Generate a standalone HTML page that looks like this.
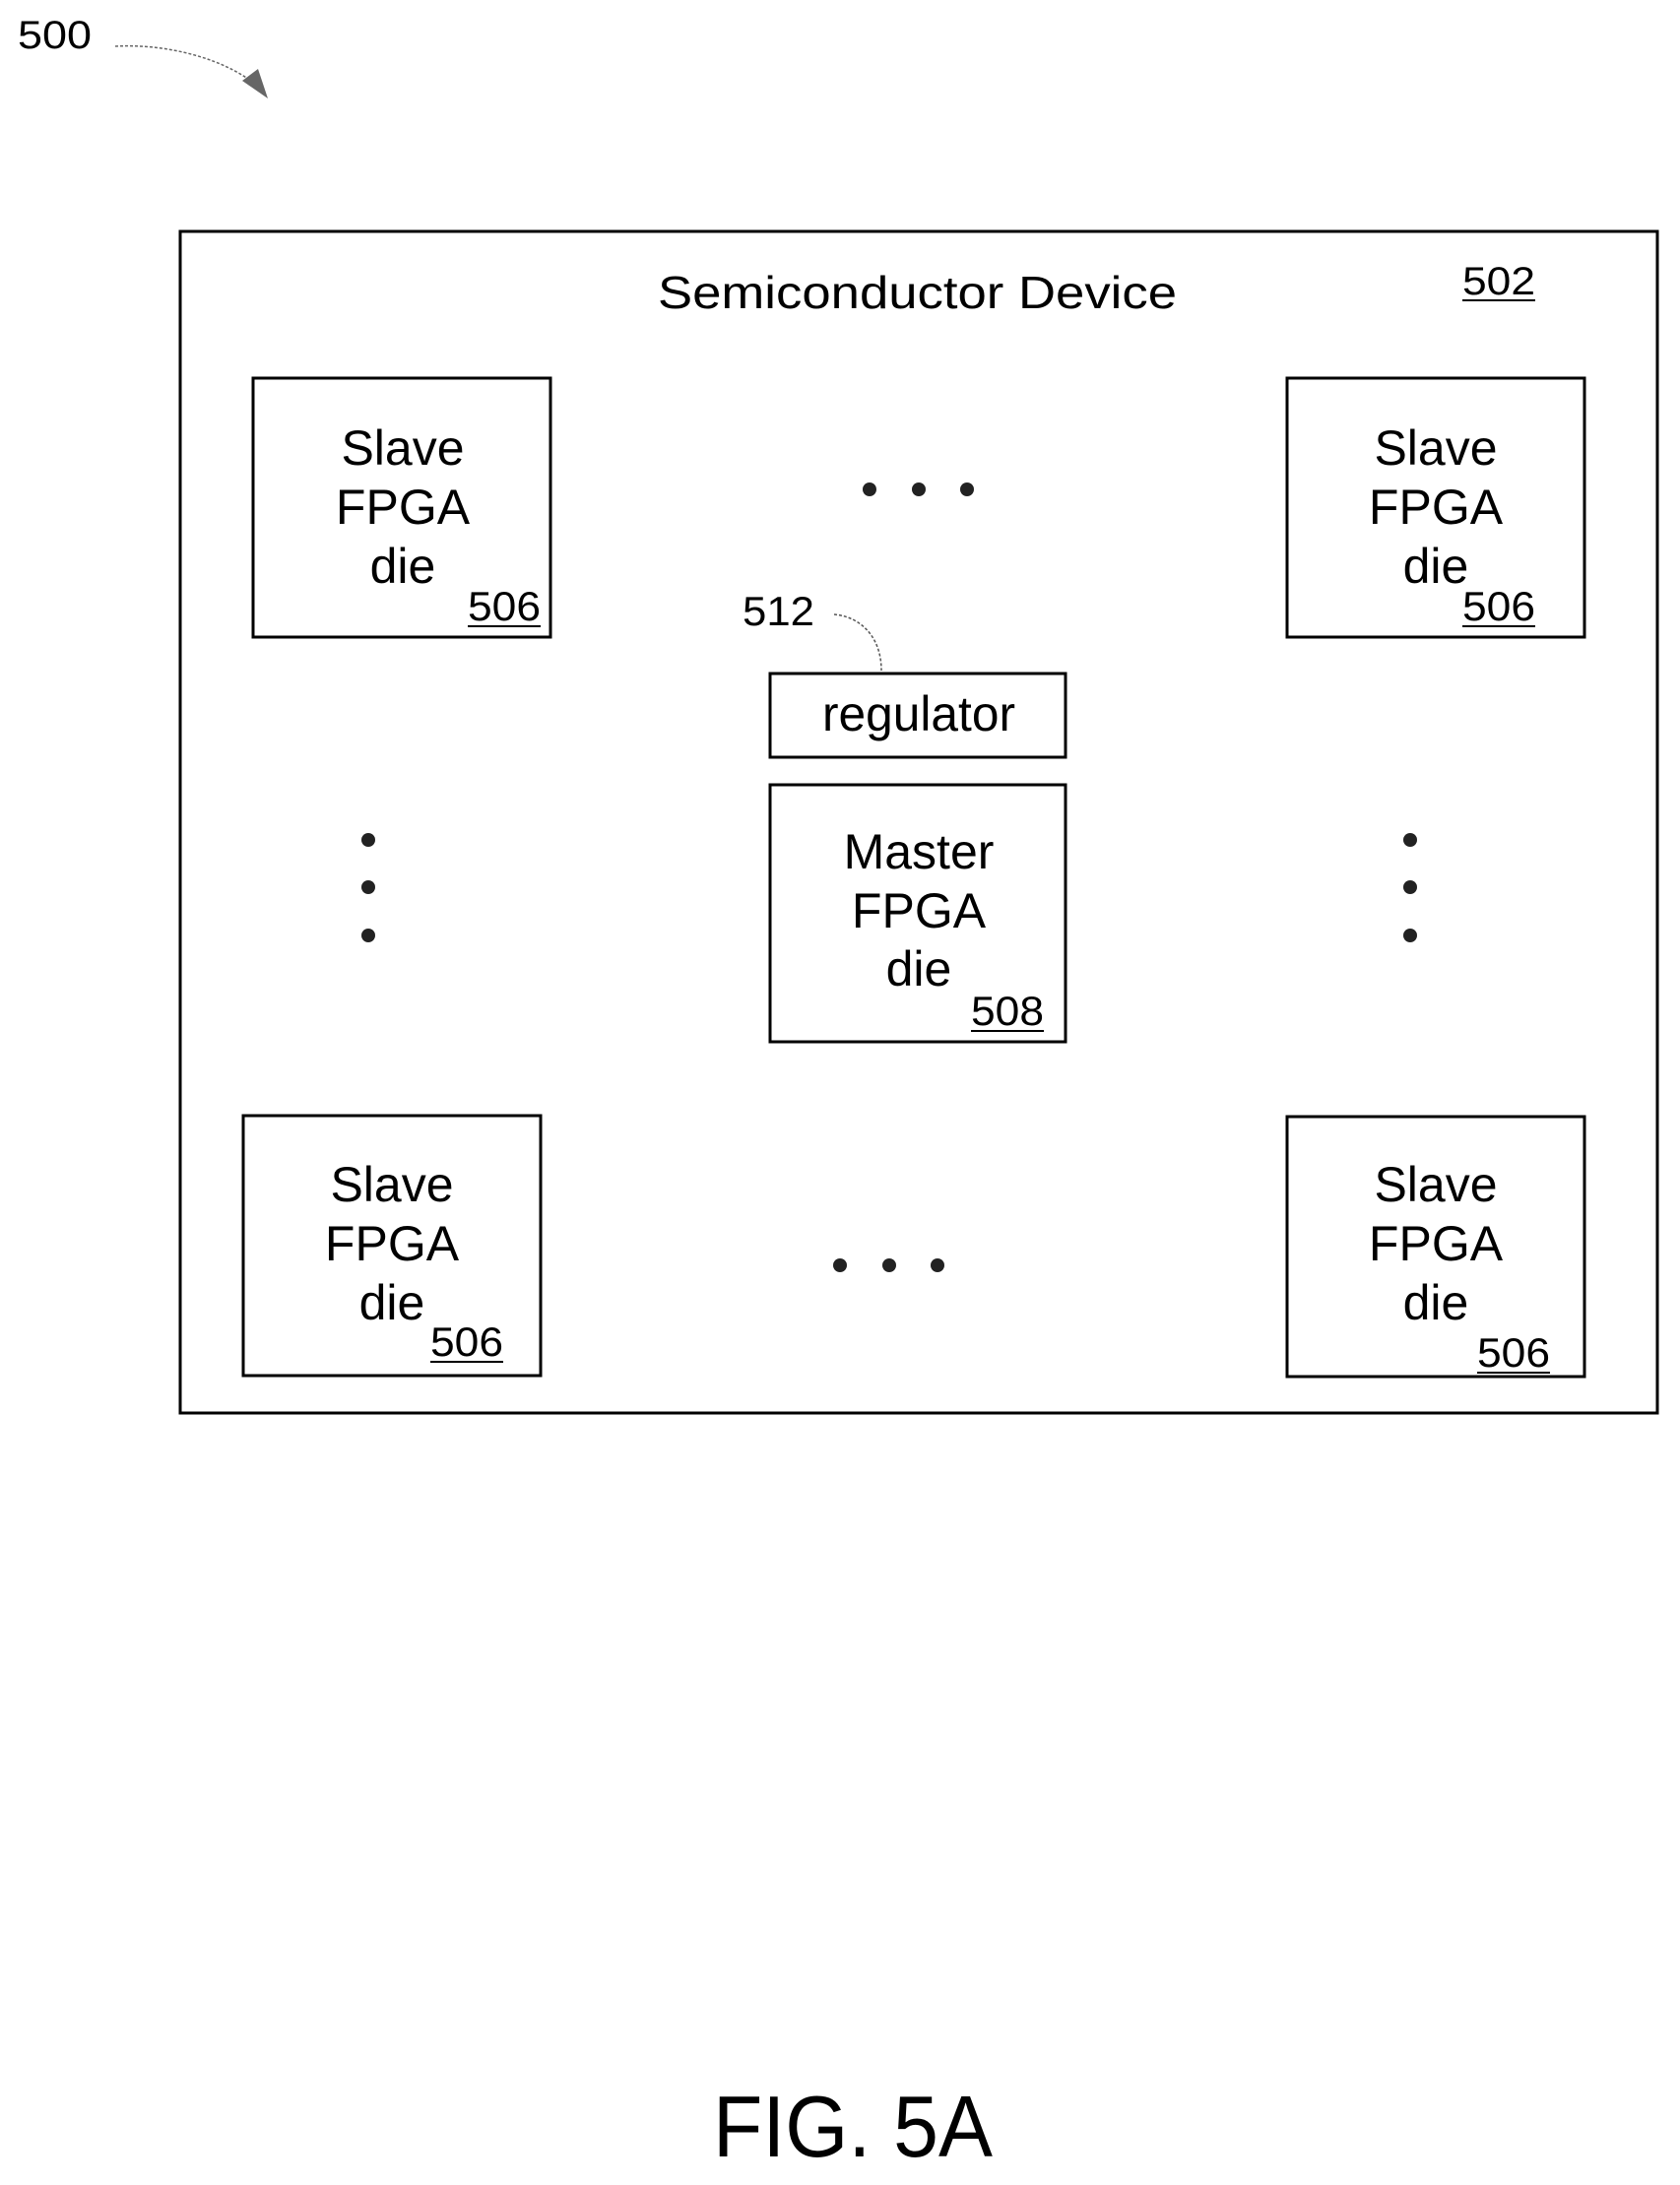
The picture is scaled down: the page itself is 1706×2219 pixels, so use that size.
<!DOCTYPE html>
<html><head><meta charset="utf-8"><style>
html,body{margin:0;padding:0;background:#fff}
svg{display:block}
text{font-family:"Liberation Sans",sans-serif;fill:#000}
</style></head><body>
<svg width="1706" height="2219" viewBox="0 0 1706 2219" xmlns="http://www.w3.org/2000/svg">
<text x="18" y="49" font-size="40" textLength="75" lengthAdjust="spacingAndGlyphs">500</text>
<path d="M117,47 C170,44 230,60 262,88" fill="none" stroke="#666" stroke-width="1.5" stroke-dasharray="3,2"/>
<path d="M246,82 L272,100 L262,70 z" fill="#666"/>
<rect x="183" y="235" width="1500" height="1200" fill="none" stroke="#000" stroke-width="3"/>
<text x="668" y="313" font-size="46" textLength="527" lengthAdjust="spacingAndGlyphs">Semiconductor Device</text>
<text x="1485" y="299" font-size="40" textLength="74" lengthAdjust="spacingAndGlyphs">502</text>
<line x1="1485" y1="305" x2="1559" y2="305" stroke="#000" stroke-width="2"/>
<g stroke="#000" stroke-width="3" fill="none">
<rect x="257" y="384" width="302" height="263"/>
<rect x="1307" y="384" width="302" height="263"/>
<rect x="247" y="1133" width="302" height="264"/>
<rect x="1307" y="1134" width="302" height="264"/>
<rect x="782" y="684" width="300" height="85"/>
<rect x="782" y="797" width="300" height="261"/>
</g>
<g font-size="50" text-anchor="middle">
<text x="409" y="472">Slave</text><text x="409" y="532">FPGA</text><text x="409" y="592">die</text>
<text x="1458" y="472">Slave</text><text x="1458" y="532">FPGA</text><text x="1458" y="592">die</text>
<text x="398" y="1220">Slave</text><text x="398" y="1280">FPGA</text><text x="398" y="1340">die</text>
<text x="1458" y="1220">Slave</text><text x="1458" y="1280">FPGA</text><text x="1458" y="1340">die</text>
<text x="933" y="882">Master</text><text x="933" y="942">FPGA</text><text x="933" y="1001">die</text>
<text x="933" y="742" textLength="196" lengthAdjust="spacingAndGlyphs">regulator</text>
</g>
<g font-size="42">
<text x="475" y="630" textLength="74" lengthAdjust="spacingAndGlyphs">506</text>
<text x="1485" y="630" textLength="74" lengthAdjust="spacingAndGlyphs">506</text>
<text x="437" y="1377" textLength="74" lengthAdjust="spacingAndGlyphs">506</text>
<text x="1500" y="1388" textLength="74" lengthAdjust="spacingAndGlyphs">506</text>
<text x="986" y="1041" textLength="74" lengthAdjust="spacingAndGlyphs">508</text>
<text x="754" y="635" textLength="73" lengthAdjust="spacingAndGlyphs">512</text>
</g>
<g stroke="#000" stroke-width="2">
<line x1="475" y1="636" x2="549" y2="636"/>
<line x1="1485" y1="636" x2="1559" y2="636"/>
<line x1="437" y1="1383" x2="511" y2="1383"/>
<line x1="1500" y1="1394" x2="1574" y2="1394"/>
<line x1="986" y1="1047" x2="1060" y2="1047"/>
</g>
<path d="M847,624 C872,626 895,645 895,681" fill="none" stroke="#555" stroke-width="1.5" stroke-dasharray="3,2"/>
<g fill="#222">
<circle cx="883" cy="497" r="7"/><circle cx="933" cy="497" r="7"/><circle cx="982" cy="497" r="7"/>
<circle cx="853" cy="1285" r="7"/><circle cx="903" cy="1285" r="7"/><circle cx="952" cy="1285" r="7"/>
<circle cx="374" cy="853" r="7"/><circle cx="374" cy="901" r="7"/><circle cx="374" cy="950" r="7"/>
<circle cx="1432" cy="853" r="7"/><circle cx="1432" cy="901" r="7"/><circle cx="1432" cy="950" r="7"/>
</g>
<text x="724" y="2190" font-size="88" textLength="284" lengthAdjust="spacingAndGlyphs">FIG. 5A</text>
</svg>
</body></html>
